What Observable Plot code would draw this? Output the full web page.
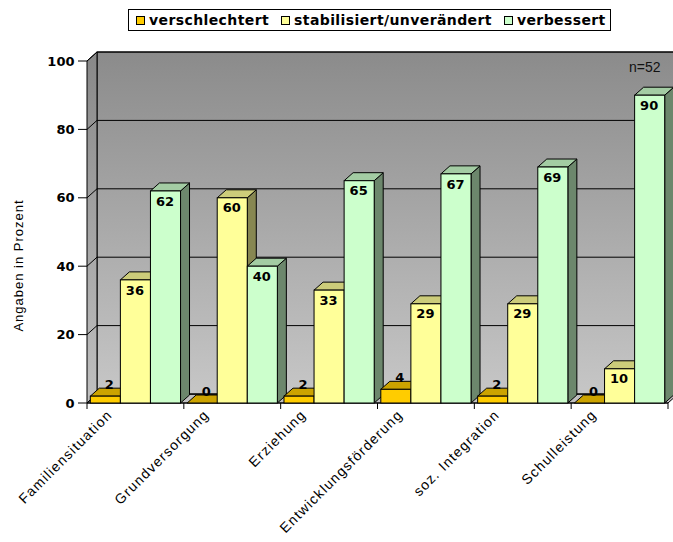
<!DOCTYPE html>
<html>
<head>
<meta charset="utf-8">
<script src="https://cdn.jsdelivr.net/npm/d3@7"></script>
<script src="https://cdn.jsdelivr.net/npm/@observablehq/plot@0.6"></script>
<style>
  html, body { margin: 0; padding: 0; background: #fff; }
  body { width: 673px; height: 542px; overflow: hidden; font-family: "Liberation Sans", Arial, sans-serif; }
  #legend { position: relative; height: 40px; }
  #legend .box { position: absolute; left: 128px; top: 9px; height: 22px; box-sizing: border-box;
    border: 1px solid #000; display: flex; align-items: center; padding: 0 4px 0 7px; gap: 12px; background: #fff; }
  #legend .item { display: flex; align-items: center; gap: 4px; font-family: "DejaVu Sans", sans-serif;
    font-weight: bold; font-size: 14px; letter-spacing: 0.4px; color: #000; white-space: nowrap; }
  #legend .sw { width: 9px; height: 9px; box-sizing: border-box; border: 1px solid #000; }
  #chart svg { display: block; }
</style>
</head>
<body>
<div id="legend"><div class="box"></div></div>
<div id="chart"></div>
<script>
// ---- data ----
const categories = ["Familiensituation", "Grundversorgung", "Erziehung", "Entwicklungsförderung", "soz. Integration", "Schulleistung"];
const series = ["verschlechtert", "stabilisiert/unverändert", "verbessert"];
const verschlechtert = [2, 0, 2, 4, 2, 0];
const stabilisiert = [36, 60, 33, 29, 29, 10];
const verbessert = [62, 40, 65, 67, 69, 90];
const yTicks = [0, 20, 40, 60, 80, 100];
const colors = ["#ffcc00", "#ffff99", "#ccffcc"];
const sampleNote = "n=52";
const yTitle = "Angaben in Prozent";

const seriesValues = [verschlechtert, stabilisiert, verbessert];
const data = categories.flatMap((c, i) => series.map((s, j) => ({category: c, series: s, value: seriesValues[j][i]})));
const firstCat = categories[0];
const lastCat = categories[categories.length - 1];

// ---- legend ----
const box = document.querySelector("#legend .box");
series.forEach((s, j) => {
  const it = document.createElement("div");
  it.className = "item";
  const sw = document.createElement("span");
  sw.className = "sw";
  sw.style.background = colors[j];
  const tx = document.createElement("span");
  tx.textContent = s;
  it.appendChild(sw); it.appendChild(tx);
  box.appendChild(it);
});

// 3D depths (pixels)
const WX = 10, WY = 9;   // walls
const BX = 9, BY = 8;    // bars

function boxRender(index, scales, values, dims) {
  if (!index || index.length === 0) return null;
  const fx = scales.fx;
  const bw = fx.bandwidth();
  const off = fx(firstCat) - dims.marginLeft;      // translation of the first facet
  const L = fx(firstCat) - off, R = fx(lastCat) + bw - off;
  const y = scales.y;
  const y0 = y(0), y100 = y(100);
  const g = d3.create("svg:g");
  const defs = g.append("defs");
  const g1 = defs.append("linearGradient").attr("id", "wallGrad").attr("x1", 0).attr("y1", 0).attr("x2", 0).attr("y2", 1);
  g1.append("stop").attr("offset", "0%").attr("stop-color", "#8b8b8b");
  g1.append("stop").attr("offset", "100%").attr("stop-color", "#c6c6c6");
  const g2 = defs.append("linearGradient").attr("id", "sideGrad").attr("x1", 0).attr("y1", 0).attr("x2", 0).attr("y2", 1);
  g2.append("stop").attr("offset", "0%").attr("stop-color", "#888888");
  g2.append("stop").attr("offset", "100%").attr("stop-color", "#c0c0c0");
  // floor
  g.append("path")
    .attr("d", `M${L},${y0}L${L + WX},${y0 - WY}L${R + WX},${y0 - WY}L${R},${y0}Z`)
    .attr("fill", "#c0c0c0").attr("stroke", "#000");
  // back wall
  g.append("rect")
    .attr("x", L + WX).attr("y", y100 - WY).attr("width", R - L).attr("height", y0 - y100)
    .attr("fill", "url(#wallGrad)").attr("stroke", "#000");
  // left wall
  g.append("path")
    .attr("d", `M${L},${y100}L${L + WX},${y100 - WY}L${L + WX},${y0 - WY}L${L},${y0}Z`)
    .attr("fill", "url(#sideGrad)").attr("stroke", "#000");
  // gridlines + ticks
  for (const v of yTicks) {
    const yy = y(v);
    g.append("line").attr("x1", L + WX).attr("x2", R + WX).attr("y1", yy - WY).attr("y2", yy - WY).attr("stroke", "#000");
    g.append("line").attr("x1", L).attr("x2", L + WX).attr("y1", yy).attr("y2", yy - WY).attr("stroke", "#000");
    g.append("line").attr("x1", L - 9).attr("x2", L).attr("y1", yy).attr("y2", yy).attr("stroke", "#000");
  }
  // x axis line and ticks at group boundaries
  g.append("line").attr("x1", L).attr("x2", R).attr("y1", y0).attr("y2", y0).attr("stroke", "#000");
  const xs = categories.map(c => fx(c) - off).concat([R]);
  for (const xx of xs) {
    g.append("line").attr("x1", xx).attr("x2", xx).attr("y1", y0).attr("y2", y0 + 6).attr("stroke", "#000");
  }
  return g.node();
}

function barRender(index, scales, values) {
  const bw = scales.x.bandwidth();
  const g = d3.create("svg:g").attr("stroke", "#000").attr("stroke-width", 1).attr("stroke-linejoin", "miter");
  for (const i of index) {
    const x0 = values.x[i], x1 = x0 + bw;
    const top = Math.min(values.y1[i], values.y2[i]);
    const bot = Math.max(values.y1[i], values.y2[i]);
    const c = d3.rgb(values.fill[i]);
    const shade = k => d3.rgb(c.r * k, c.g * k, c.b * k).formatHex();
    g.append("path")
      .attr("d", `M${x1},${top}L${x1 + BX},${top - BY}L${x1 + BX},${bot - BY}L${x1},${bot}Z`)
      .attr("fill", shade(0.53));
    g.append("path")
      .attr("d", `M${x0},${top}L${x0 + BX},${top - BY}L${x1 + BX},${top - BY}L${x1},${top}Z`)
      .attr("fill", shade(0.8));
    g.append("rect")
      .attr("x", x0).attr("y", top).attr("width", bw).attr("height", bot - top)
      .attr("fill", c.formatHex());
  }
  return g.node();
}

function spacing(ls) {
  return (index, scales, values, dims, context, next) => {
    const el = next(index, scales, values, dims, context);
    if (el) el.setAttribute("letter-spacing", ls);
    return el;
  };
}

const plot = Plot.plot({
  width: 673,
  height: 502,
  marginLeft: 87,
  marginRight: 5,
  marginTop: 21,
  marginBottom: 139,
  style: {background: "transparent", fontFamily: "Liberation Sans, Arial, sans-serif", fontSize: "13px", overflow: "visible"},
  fx: {domain: categories, padding: 0, round: false, axis: null, label: null},
  x: {domain: series, paddingInner: 0, paddingOuter: 0.11, round: false, axis: null, label: null},
  y: {domain: [0, 100], axis: null, label: null},
  color: {domain: series, range: colors},
  marks: [
    Plot.ruleY(yTicks, {y: d => d, fx: () => firstCat, render: boxRender}),
    Plot.barY(data, {fx: "category", x: "series", y: "value", fill: "series", render: barRender}),
    Plot.text(data, {filter: d => d.value >= 10, fx: "category", x: "series", y: "value", text: d => String(d.value),
      dy: 10, dx: -1, fontFamily: "DejaVu Sans", fontWeight: "bold", fontSize: 13, fill: "#000"}),
    Plot.text(data, {filter: d => d.value < 10, fx: "category", x: "series", y: "value", text: d => String(d.value),
      dy: -12, dx: 3.5, fontFamily: "DejaVu Sans", fontWeight: "bold", fontSize: 13, fill: "#000"}),
    Plot.text(yTicks, {y: d => d, fx: () => firstCat, text: d => String(d), frameAnchor: "left", textAnchor: "end", dx: -13,
      fontFamily: "DejaVu Sans", fontWeight: "bold", fontSize: 13, fill: "#000"}),
    Plot.text(categories, {fx: d => d, text: d => d, frameAnchor: "bottom", rotate: -45, textAnchor: "end",
      lineAnchor: "middle", dx: -26, dy: 9, fontSize: 14, fill: "#000", render: spacing("1.2")}),
    Plot.text([yTitle], {fx: () => firstCat, frameAnchor: "left", rotate: -90, textAnchor: "middle", lineAnchor: "middle",
      dx: -69, dy: 33, fontSize: 13, fill: "#000", render: spacing("1")}),
    Plot.text([sampleNote], {fx: () => lastCat, frameAnchor: "top-right", textAnchor: "end", lineAnchor: "middle", dx: -8, dy: 6,
      fontSize: 14, fill: "#111"})
  ]
});
document.getElementById("chart").appendChild(plot);
</script>
</body>
</html>
